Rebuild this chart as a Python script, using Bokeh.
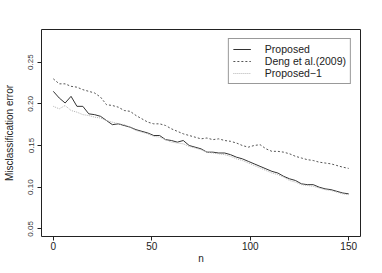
from bokeh.plotting import figure
from bokeh.models import Legend, LegendItem, FixedTicker, Range1d
from bokeh.embed import file_html
from bokeh.resources import INLINE

n = list(range(0, 151, 3))

proposed = [0.215, 0.207, 0.201, 0.209, 0.197, 0.197, 0.188, 0.187, 0.185, 0.180,
            0.175, 0.176, 0.174, 0.172, 0.169, 0.167, 0.165, 0.162, 0.162, 0.157,
            0.156, 0.154, 0.156, 0.150, 0.148, 0.146, 0.142, 0.142, 0.141, 0.141,
            0.139, 0.136, 0.134, 0.131, 0.128, 0.125, 0.122, 0.119, 0.117, 0.113,
            0.110, 0.108, 0.104, 0.103, 0.103, 0.100, 0.098, 0.097, 0.095, 0.093,
            0.092]

deng = [0.230, 0.224, 0.224, 0.221, 0.220, 0.217, 0.215, 0.213, 0.208, 0.199,
        0.198, 0.196, 0.192, 0.191, 0.186, 0.182, 0.178, 0.176, 0.176, 0.174,
        0.170, 0.167, 0.164, 0.162, 0.160, 0.158, 0.159, 0.157, 0.158, 0.156,
        0.155, 0.153, 0.150, 0.148, 0.150, 0.151, 0.146, 0.143, 0.143, 0.142,
        0.140, 0.137, 0.135, 0.133, 0.132, 0.130, 0.129, 0.128, 0.126, 0.124,
        0.1225]

proposed1 = [0.197, 0.194, 0.198, 0.192, 0.190, 0.187, 0.186, 0.184, 0.183, 0.180,
             0.178, 0.176, 0.175, 0.172, 0.168, 0.166, 0.164, 0.161, 0.160, 0.157,
             0.154, 0.153, 0.152, 0.149, 0.147, 0.145, 0.142, 0.141, 0.140, 0.139,
             0.137, 0.134, 0.132, 0.129, 0.126, 0.123, 0.120, 0.117, 0.115, 0.112,
             0.108, 0.106, 0.103, 0.102, 0.101, 0.099, 0.097, 0.096, 0.094, 0.092,
             0.091]

x_ticks = [0, 50, 100, 150]
y_ticks = [0.05, 0.10, 0.15, 0.20, 0.25]
series_names = ["Proposed", "Deng et al.(2009)", "Proposed\u22121"]

p = figure(width=378, height=270, output_backend="svg", toolbar_location=None,
           x_range=Range1d(-6, 156), y_range=Range1d(0.0408, 0.2892),
           min_border_left=41, min_border_right=18, min_border_top=29, min_border_bottom=34)

p.background_fill_color = "white"
p.border_fill_color = "white"
p.outline_line_color = "#222222"
p.outline_line_width = 1
p.grid.visible = False

r1 = p.line(n, proposed, line_color="#333333", line_width=1)
r2 = p.line(n, deng, line_color="#555555", line_width=1, line_dash="2 2")
r3 = p.line(n, proposed1, line_color="#b4b4b4", line_width=1, line_dash="1 1")

for ax in (p.xaxis[0], p.yaxis[0]):
    ax.axis_line_color = None
    ax.major_tick_line_color = "#222222"
    ax.major_tick_out = 4
    ax.major_tick_in = 0
    ax.minor_tick_line_color = None

p.xaxis.ticker = FixedTicker(ticks=x_ticks)
p.xaxis.major_label_text_font = "Liberation Sans"
p.xaxis.major_label_text_font_size = "10px"
p.xaxis.major_label_text_color = "#222222"
p.xaxis.major_label_standoff = 1
p.xaxis.axis_label = "n"
p.xaxis.axis_label_text_font = "Liberation Sans"
p.xaxis.axis_label_text_font_style = "normal"
p.xaxis.axis_label_text_font_size = "10px"
p.xaxis.axis_label_text_color = "#222222"
p.xaxis.axis_label_standoff = 0

p.yaxis.ticker = FixedTicker(ticks=y_ticks)
p.yaxis.major_label_overrides = {t: f"{t:.2f}" for t in y_ticks}
p.yaxis.major_label_orientation = "vertical"
p.yaxis.major_label_text_font = "Liberation Sans"
p.yaxis.major_label_text_font_size = "8px"
p.yaxis.major_label_text_color = "#333333"
p.yaxis.major_label_standoff = 4
p.yaxis.axis_label = "Misclassification error"
p.yaxis.axis_label_text_font = "Liberation Sans"
p.yaxis.axis_label_text_font_style = "normal"
p.yaxis.axis_label_text_font_size = "10px"
p.yaxis.axis_label_text_color = "#222222"
p.yaxis.axis_label_standoff = 11

legend = Legend(items=[LegendItem(label=series_names[0], renderers=[r1]),
                       LegendItem(label=series_names[1], renderers=[r2]),
                       LegendItem(label=series_names[2], renderers=[r3])],
                location="top_right", margin=9, padding=4, spacing=-2,
                glyph_width=18, glyph_height=10, label_height=10, label_standoff=14,
                label_text_font="Liberation Sans", label_text_font_size="10.5px",
                label_text_color="#222222", border_line_color="#333333",
                border_line_width=1, background_fill_alpha=1)
p.add_layout(legend, "center")

open("out.html", "w").write(file_html(p, INLINE))
